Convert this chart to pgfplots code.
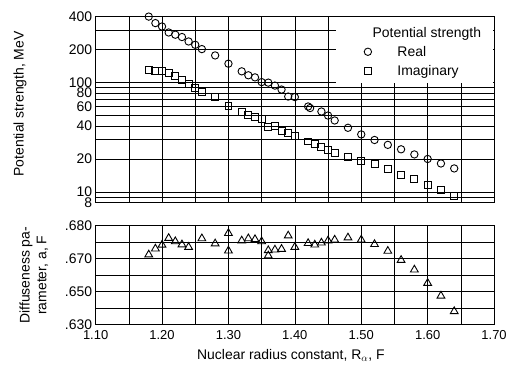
\documentclass[border=0pt]{standalone}
\usepackage{pgfplots}
\pgfplotsset{compat=1.18}
\usepackage{fontspec}
\setmainfont{Liberation Sans}
\newcommand{\tf}{\fontsize{14}{16}\selectfont}
\newcommand{\xf}{\fontsize{13}{15}\selectfont}
\newcommand{\lf}{\fontsize{14}{17}\selectfont}
\begin{document}
\begin{tikzpicture}
\path[use as bounding box] (0,0) rectangle (510pt,367pt);
\pgfplotsset{
  common/.style={
    scale only axis, width=400pt,
    xmin=1.10, xmax=1.70,
    axis line style={black, line width=1pt},
    grid=both,
    major grid style={black, line width=0.6pt},
    minor grid style={black, line width=0.6pt},
    major tick length=0pt, minor tick length=0pt,
    tick label style={font=\tf},
    label style={font=\lf},
    /pgf/number format/assume math mode=true,
  },
}
% top panel
\begin{axis}[common,
  at={(96pt,163.6pt)}, anchor=south west,
  height=187pt,
  ymode=log, ymin=8, ymax=400,
  xtick={1.1,1.2,1.3,1.4,1.5,1.6,1.7}, xticklabels={},
  minor xtick={1.15,1.25,1.35,1.45,1.55,1.65},
  ytick={8,10,20,40,60,80,100,200,400},
  yticklabels={8,10,20,40,60,80,100,200,400},
  minor ytick={9,30,50,70,90,300},
  ylabel={Potential strength, MeV},
  ylabel style={at={(axis description cs:-0.19,0.53)}, anchor=center},
  legend entries={\hspace*{-25pt}\rule[-20pt]{0pt}{34pt}Potential strength, Real, Imaginary},
  legend cell align=left,
  legend style={at={(axis description cs:0.998,0.997)}, anchor=north east,
    draw=none, fill=white, font=\lf, inner xsep=10pt, inner ysep=4pt,
    row sep=3.5pt,
    /tikz/every odd column/.append style={column sep=24pt}},
]
\addlegendimage{legend image code/.code={\path[draw=none,fill=none] (-13pt,0pt) rectangle (0pt,0pt);}}
\addplot[only marks, mark=o, mark size=3.7pt, black, line width=0.9pt] coordinates {
(1.18,398) (1.19,347) (1.20,323) (1.21,285) (1.22,272) (1.23,259) (1.24,236)
(1.25,220) (1.26,201) (1.28,176) (1.30,148) (1.32,126) (1.33,116) (1.34,111)
(1.35,100.5) (1.36,99.4) (1.37,93.4) (1.38,85.9) (1.39,74.2) (1.40,73.4)
(1.42,60.2) (1.423,58.3) (1.44,54.2) (1.45,49.8) (1.46,44.9) (1.48,38.5)
(1.50,33.5) (1.52,29.8) (1.54,26.9) (1.56,24.5) (1.58,22) (1.60,20)
(1.62,18.2) (1.64,16.4)
};
\addplot[only marks, mark=square, mark size=3.5pt, black, line width=0.9pt] coordinates {
(1.18,128.6) (1.19,126) (1.20,127.8) (1.21,123) (1.22,115) (1.23,106)
(1.24,96.4) (1.25,89) (1.26,82.4) (1.28,73.7) (1.30,60.8) (1.32,53.8)
(1.33,50.9) (1.34,48.3) (1.35,46.4) (1.36,39.3) (1.37,40.0) (1.38,36.0)
(1.39,34.7) (1.40,32.3) (1.42,28.9) (1.43,27.6) (1.44,25.9) (1.45,24.2)
(1.46,22.5) (1.48,20.9) (1.50,19.1) (1.52,17.9) (1.54,16.3) (1.56,14.4)
(1.58,13.1) (1.60,11.5) (1.62,10.4) (1.64,9.25)
};
\end{axis}
% bottom panel
\begin{axis}[common,
  at={(96pt,41pt)}, anchor=south west,
  height=99.5pt,
  ymin=0, ymax=6,
  xtick={1.1,1.2,1.3,1.4,1.5,1.6,1.7},
  xticklabels={1.10,1.20,1.30,1.40,1.50,1.60,1.70},
  xticklabel style={yshift=-2pt, font=\xf},
  minor xtick={1.15,1.25,1.35,1.45,1.55,1.65},
  ytick={0,2,4,6}, yticklabels={.630,.650,.670,.680},
  minor ytick={1,3,5},
  ylabel={Diffuseness pa-\\rameter, a, F},
  ylabel style={at={(axis description cs:-0.155,0.50)}, anchor=center, align=center},
  xlabel={Nuclear radius constant, R$_{\alpha}$, F},
  xlabel style={at={(axis description cs:0.49,-0.31)}, anchor=center},
]
\addplot[only marks, mark=triangle, mark size=4.5pt, black, line width=0.9pt] coordinates {
(1.18,4.24) (1.19,4.60) (1.20,4.83) (1.21,5.24) (1.22,5.04) (1.23,4.85)
(1.24,4.70) (1.26,5.22) (1.28,4.91) (1.30,5.54) (1.30,4.48) (1.32,5.09)
(1.33,5.22) (1.34,5.17) (1.35,5.04) (1.36,4.50) (1.36,4.18) (1.37,4.54)
(1.38,4.58) (1.39,5.39) (1.40,4.70) (1.42,4.93) (1.43,4.84) (1.44,4.96)
(1.45,5.09) (1.46,5.14) (1.48,5.27) (1.50,5.14) (1.52,4.87) (1.54,4.46)
(1.56,3.91) (1.58,3.33) (1.60,2.52) (1.62,1.75) (1.64,0.81)
};
\end{axis}
\end{tikzpicture}
\end{document}
